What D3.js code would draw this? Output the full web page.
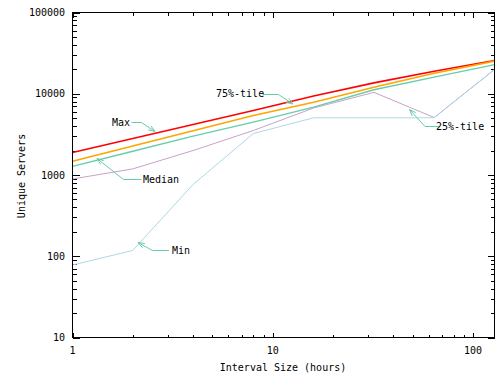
<!DOCTYPE html>
<html><head><meta charset="utf-8">
<script src="https://cdn.jsdelivr.net/npm/d3@7"></script>
<style>
body{margin:0;background:#fff}
text{font-family:"DejaVu Sans Mono",monospace;font-size:10px;fill:#000}
</style></head>
<body><svg id="c" width="500" height="386"></svg>
<script>
const hours = [1, 2, 4, 8, 16, 32, 64, 128];
const maxVals    = [1890, 2810, 4190, 6220, 9400, 13600, 18900, 25700];
const p75Vals    = [1480, 2280, 3500, 5400, 7870, 12000, 17900, 25200];
const medianVals = [1280, 1960, 3000, 4470, 6830, 11200, 16000, 22900];
const p25Vals    = [893, 1190, 2000, 3530, 6680, 10400, 5100, 19900];
const minVals    = [78, 118, 764, 3240, 5060, 5060, 5060, 19900];
const xTickLabels = ["1", "10", "100"];
const yTickLabels = ["10", "100", "1000", "10000", "100000"];
const seriesNames = ["Max", "75%-tile", "Median", "25%-tile", "Min"];
const seriesColors = ["#ff0000", "#ffa500", "#66cdaa", "#c8a2c8", "#add8e6"];

const svg = d3.select("#c");
const L = 72.5, R = 494.5, T = 12.5, B = 337.5;
const x = d3.scaleLog().domain([1, 128]).range([L, R]);
const y = d3.scaleLog().domain([10, 100000]).range([B, T]);

const xMinor = [], yMinor = [];
for (const d of [1, 10]) for (let k = 2; k <= 9; k++) xMinor.push(d * k);
for (const d of [10, 100, 1000, 10000]) for (let k = 2; k <= 9; k++) yMinor.push(d * k);
const xMajor = xTickLabels.map(Number), yMajor = yTickLabels.map(Number);

const g = svg.append("g").attr("stroke", "#000").attr("stroke-width", 1).attr("shape-rendering", "crispEdges");
xMajor.concat(xMinor).forEach(v => {
  const len = xMajor.includes(v) ? 5 : 3;
  const px = Math.round(x(v)) + 0.5;
  g.append("line").attr("x1", px).attr("x2", px).attr("y1", B).attr("y2", B - len);
  g.append("line").attr("x1", px).attr("x2", px).attr("y1", T).attr("y2", T + len);
});
yMajor.concat(yMinor).forEach(v => {
  const len = yMajor.includes(v) ? 7 : 4;
  const py = Math.round(y(v)) + 0.5;
  g.append("line").attr("y1", py).attr("y2", py).attr("x1", L).attr("x2", L + len);
  g.append("line").attr("y1", py).attr("y2", py).attr("x1", R).attr("x2", R - len);
});

xMajor.forEach((v, i) => {
  svg.append("text").attr("x", x(v)).attr("y", 350).attr("dy", "0.35em")
    .attr("text-anchor", "middle").text(xTickLabels[i]);
});
yMajor.forEach((v, i) => {
  svg.append("text").attr("x", 65).attr("y", y(v)).attr("dy", "0.35em")
    .attr("text-anchor", "end").text(yTickLabels[i]);
});

svg.append("text").attr("x", 283).attr("y", 367.5).attr("dy", "0.35em")
  .attr("text-anchor", "middle").text("Interval Size (hours)");
svg.append("text").attr("transform", "translate(21,176) rotate(-90)").attr("dy", "0.35em")
  .attr("text-anchor", "middle").text("Unique Servers");

const allSeries = [maxVals, p75Vals, medianVals, p25Vals, minVals];
const widths = [1.6, 1.6, 1.3, 1, 1];
const line = d3.line().x((d, i) => x(hours[i])).y(d => y(d));
allSeries.forEach((vals, i) => {
  svg.append("path").datum(vals).attr("d", line).attr("fill", "none")
    .attr("stroke", seriesColors[i]).attr("stroke-width", widths[i]);
});

const annColor = "#66cdaa";
const anns = [
  {name: "Max", tx: 112, ty: 122, pts: [[131.5, 122.5], [141.5, 122.5], [155, 131.5]]},
  {name: "75%-tile", tx: 216, ty: 93.5, pts: [[262.5, 94.5], [278.5, 94.5], [293, 104]]},
  {name: "Median", tx: 143, ty: 179, pts: [[141.5, 179.5], [123.5, 179.5], [97, 158.5]]},
  {name: "25%-tile", tx: 436, ty: 126, pts: [[440, 126.5], [425, 126.5], [409.5, 109.5]]},
  {name: "Min", tx: 172, ty: 250, pts: [[169, 250.5], [152.5, 250.5], [138, 242.5]]}
];
anns.forEach(a => {
  svg.append("path").attr("d", d3.line()(a.pts)).attr("fill", "none")
    .attr("stroke", annColor).attr("stroke-width", 1);
  const [p1, p2] = [a.pts[a.pts.length - 2], a.pts[a.pts.length - 1]];
  const ang = Math.atan2(p2[1] - p1[1], p2[0] - p1[0]);
  const hl = 7, ha = 0.35;
  const h1 = [p2[0] - hl * Math.cos(ang - ha), p2[1] - hl * Math.sin(ang - ha)];
  const h2 = [p2[0] - hl * Math.cos(ang + ha), p2[1] - hl * Math.sin(ang + ha)];
  svg.append("path").attr("d", d3.line()([h1, p2, h2])).attr("fill", "none")
    .attr("stroke", annColor).attr("stroke-width", 1);
  svg.append("text").attr("x", a.tx).attr("y", a.ty).attr("dy", "0.35em").text(a.name);
});

svg.append("rect").attr("x", L).attr("y", T).attr("width", R - L).attr("height", B - T)
  .attr("fill", "none").attr("stroke", "#000").attr("stroke-width", 1).attr("shape-rendering", "crispEdges");
</script></body></html>
